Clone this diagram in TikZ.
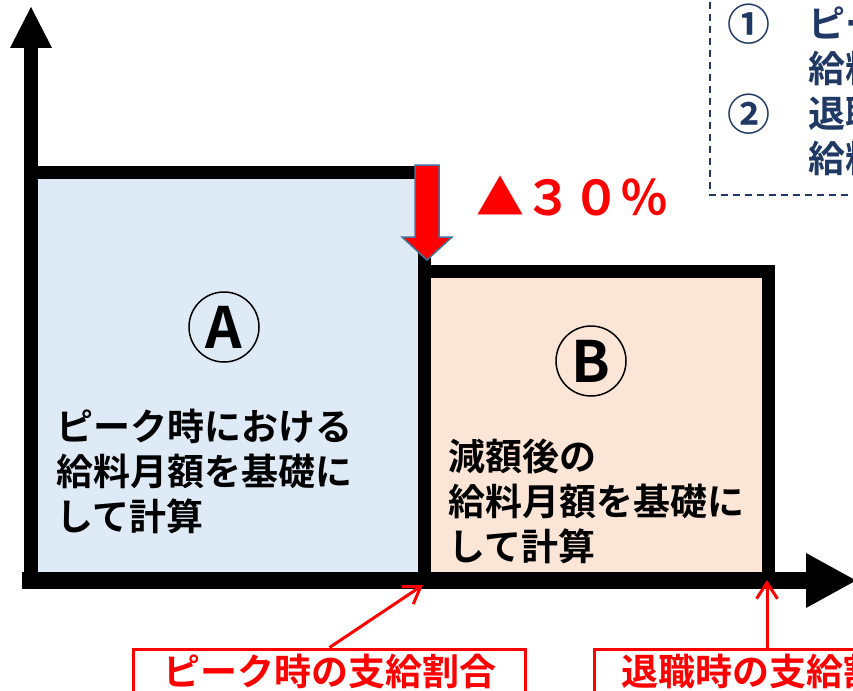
\documentclass[tikz,border=0pt]{standalone}
\usepackage{fontspec}
\setmainfont{Noto Sans CJK JP}[BoldFont={Noto Sans CJK JP Bold}]
\usetikzlibrary{arrows.meta}
\definecolor{boxblue}{HTML}{DEEBF7}
\definecolor{boxpeach}{HTML}{FBE5D6}
\definecolor{notenavy}{HTML}{203864}
\definecolor{arrowedge}{HTML}{41719C}
\tikzset{
	boxtext/.style={anchor=base west, inner sep=0pt, align=left, font=\fontsize{37pt}{45pt}\selectfont\bfseries},
	circlabel/.style={circle, draw, line width=1.5pt, minimum size=70pt, inner sep=0pt, font=\fontsize{57pt}{57pt}\selectfont\bfseries},
	redlabel/.style={draw=red, line width=3.5pt, text=red, anchor=north, inner xsep=0pt, inner ysep=4pt, text height=32pt, text depth=30pt, font=\fontsize{37pt}{45pt}\selectfont\bfseries},
	redpointer/.style={draw=red, line width=3pt, -{Straight Barb[length=16pt,width=21pt]}}
}

\begin{document}
\begin{tikzpicture}[x=1pt, y=-1pt]
			%%%%% START %%%%%
			\useasboundingbox (0,0) rectangle (853,690);
			\clip (0,0) rectangle (853,690);
			
			\draw[line width=13pt, fill=boxblue] (31,172.5) rectangle (424.5,580);
			\draw[line width=13pt, fill=boxpeach] (424,271.5) rectangle (768.5,580);
			
			\draw[line width=14pt] (31,589) -- (31,47);
			\fill (10,48) -- (31,7) -- (52,48) -- cycle;
			\draw[line width=17pt] (22,580.5) -- (807,580.5);
			\fill (806,553) -- (856,580.5) -- (806,608) -- cycle;
			
			\draw[fill=red, draw=arrowedge, line width=1.5pt] (415,165) -- (439,165) -- (439,237) -- (452,237) -- (427,260) -- (402,237) -- (415,237) -- cycle;
			\node[anchor=base west, inner sep=0pt, text=red, font=\fontsize{48pt}{48pt}\selectfont\bfseries] (cut) at (476,215) {▲３０％};
			
			\node[circlabel] (markA) at (224,327) {A};
			\node[circlabel] (markB) at (591,361) {B};
			
			% base = last line
			\node[boxtext] (textA) at (56,530) {ピーク時における\\給料月額を基礎に\\して計算};
			\node[boxtext] (textB) at (448,560) {減額後の\\給料月額を基礎に\\して計算};
			
			\draw[notenavy, line width=1.5pt, dash pattern=on 7pt off 5pt] (710,-10) rectangle (900,195);
			\node[boxtext, text=notenavy, font=\fontsize{43pt}{45pt}\selectfont\bfseries] (notenum) at (727,131) {①\\[45pt]②};
			\node[boxtext, text=notenavy] (notetext) at (808,172.5) {ピーク時の支給割合×\\給料月額Ⓐ\\退職時の支給割合×\\給料月額Ⓑ};
			
			\coordinate (peakpt) at (423,585);
			\coordinate (retirept) at (767,580);
			\node[redlabel, minimum width=392pt] (peaklabel) at (329.5,647.5) {ピーク時の支給割合};
			\node[redlabel, minimum width=350pt, anchor=north west] (retirelabel) at (592.75,647.5) {退職時の支給割合};
			\draw[redpointer] (peaklabel.north) -- (peakpt);
			\draw[redpointer] (retirept |- retirelabel.north) -- (retirept);
			%%%%% END %%%%%
\end{tikzpicture}
\end{document}
